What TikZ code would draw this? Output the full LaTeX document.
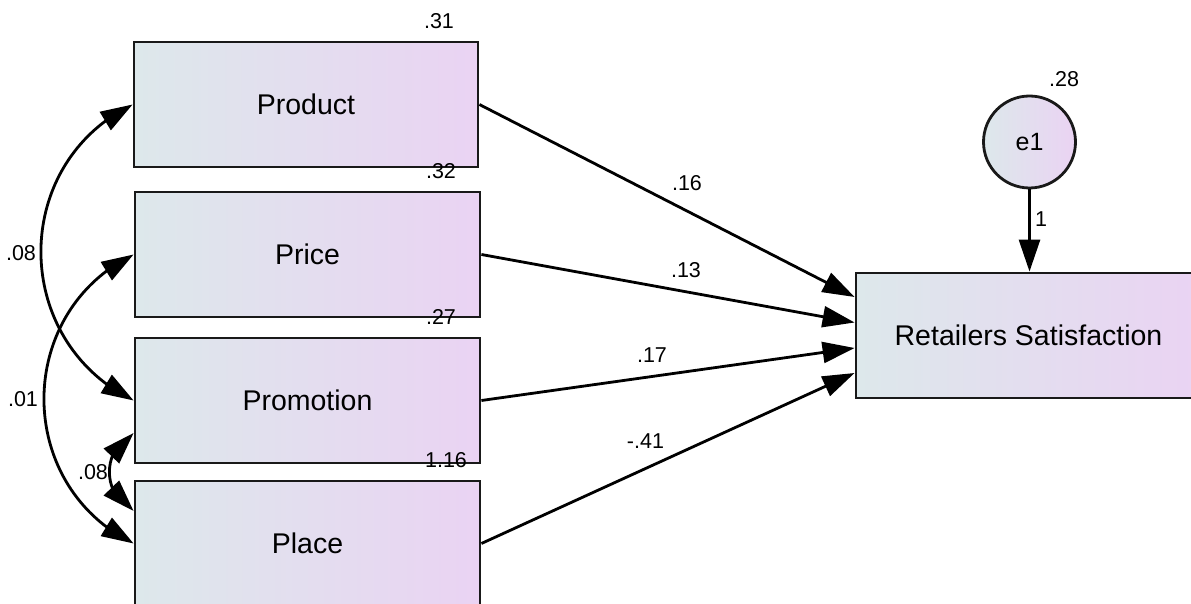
\documentclass[tikz,border=0pt]{standalone}
\usepackage{fontspec}
\setmainfont{Liberation Sans}
\usetikzlibrary{arrows.meta,bending}
\definecolor{gL}{RGB}{221,232,235}
\definecolor{gR}{RGB}{234,211,243}
\begin{document}
\begin{tikzpicture}[x=1pt,y=1pt,
  var/.style={draw=black!90, line width=2.8pt, left color=gL, right color=gR, minimum height=125pt, inner sep=0pt, font=\fontsize{28.5}{30}\selectfont},
  err/.style={circle, draw=black!90, line width=2.8pt, left color=gL, right color=gR, minimum size=92pt, inner sep=0pt, font=\fontsize{25}{27}\selectfont},
  reg/.style={line width=2.8pt, -{Triangle[length=32pt,width=21pt]}},
  cov/.style={line width=2.8pt, {Triangle[length=32pt,width=21pt]}-{Triangle[length=32pt,width=21pt]}},
  lab/.style={anchor=base, inner sep=0pt, font=\fontsize{21.5}{23}\selectfont}]
\useasboundingbox (0,0) rectangle (1191,604);
\fill[white] (0,0) rectangle (1191,604);

\node[var, minimum width=344pt] (prod) at (306,499.5) {Product};
\node[var, minimum width=345pt] (price) at (307.5,349.5) {Price};
\node[var, minimum width=345pt] (prom) at (307.5,203.5) {Promotion};
\node[var, minimum width=345pt] (place) at (307.5,60.5) {Place};
\node[var, minimum width=345pt] (rs) at (1028.5,268.5) {Retailers Satisfaction};
\node[err] (e1) at (1029.5,462) {e1};

\draw[reg] (prod.east) -- ([yshift=38.5pt]rs.west);
\draw[reg] (price.east) -- ([yshift=13pt]rs.west);
\draw[reg] (prom.east) -- ([yshift=-12.5pt]rs.west);
\draw[reg] (place.east) -- ([yshift=-37.5pt]rs.west);
\draw[reg] (e1.south) -- (e1.south |- rs.north);

\draw[cov] (prod.west) to[out=206,in=154,looseness=1.18] (prom.west);
\draw[cov] (price.west) to[out=206,in=154,looseness=1.18] (place.west);
\draw[cov] ([yshift=-32.5pt]prom.west) to[out=206,in=154,looseness=1.18] ([yshift=32.5pt]place.west);

\node[lab] (l31) at (439,575) {.31};
\node[lab] (l32) at (441,425) {.32};
\node[lab] (l27) at (441,279) {.27};
\node[lab] (l116) at (446,136) {1.16};
\node[lab] (l16) at (687,413) {.16};
\node[lab] (l13) at (686,326) {.13};
\node[lab] (l17) at (652,241) {.17};
\node[lab] (l41) at (645.5,155) {-.41};
\node[lab] (l28) at (1064,517) {.28};
\node[lab] (l1) at (1041,377) {1};
\node[lab] (c1) at (21,343) {.08};
\node[lab] (c2) at (23,197) {.01};
\node[lab] (c3) at (93,124) {.08};
\end{tikzpicture}
\end{document}
